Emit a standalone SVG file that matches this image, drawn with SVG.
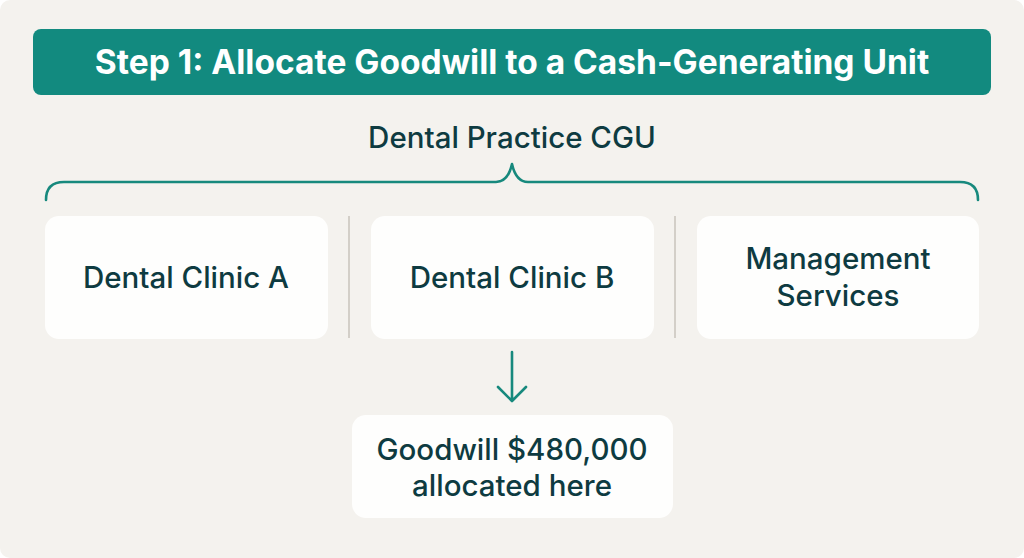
<svg xmlns="http://www.w3.org/2000/svg" width="1024" height="558" viewBox="0 0 1024 558">
<style>
.box{fill:#fefefd;}
.sep{stroke:#d3cfc8;stroke-width:2;}
.lbl{font-family:Inter,"Noto Sans","Liberation Sans",sans-serif;font-weight:500;font-size:29.5px;fill:#0e3b41;text-anchor:middle;}
.title{font-family:Inter,"Noto Sans","Liberation Sans",sans-serif;font-weight:700;font-size:33.5px;fill:#ffffff;text-anchor:middle;}
.teal{fill:none;stroke:#17897d;stroke-width:2.6;stroke-linecap:round;stroke-linejoin:round;}
</style>
<rect width="1024" height="558" fill="#ffffff"/>
<rect x="0" y="0" width="1024" height="558" rx="10" fill="#f4f2ee"/>
<g id="title">
<rect x="33" y="29" width="958" height="66" rx="8" fill="#128a7f"/>
<text class="title" x="512" y="74">Step 1: Allocate Goodwill to a Cash-Generating Unit</text>
</g>
<g id="cgu">
<text class="lbl" x="512" y="148">Dental Practice CGU</text>
<path class="teal" d="M46 200 Q46 182 64 182 L496 182 Q508 182 512 164 Q516 182 528 182 L960 182 Q978 182 978 200"/>
</g>
<g id="separators">
<line class="sep" x1="349" y1="216" x2="349" y2="338"/>
<line class="sep" x1="675" y1="216" x2="675" y2="338"/>
</g>
<g id="clinicA">
<rect class="box" x="45" y="216" width="283" height="123" rx="14"/>
<text class="lbl" x="186" y="288">Dental Clinic A</text>
</g>
<g id="clinicB">
<rect class="box" x="371" y="216" width="283" height="123" rx="14"/>
<text class="lbl" x="512" y="288">Dental Clinic B</text>
</g>
<g id="mgmt">
<rect class="box" x="697" y="216" width="282" height="123" rx="14"/>
<text class="lbl" x="838" y="269">Management</text>
<text class="lbl" x="838" y="306">Services</text>
</g>
<g id="connectors">
<path class="teal" d="M512 352 L512 400 M498 387 L512 401 L526 387"/>
</g>
<g id="goodwill">
<rect class="box" x="352" y="415" width="321" height="103" rx="14"/>
<text class="lbl" x="512" y="460">Goodwill $480,000</text>
<text class="lbl" x="512" y="496">allocated here</text>
</g>
</svg>
